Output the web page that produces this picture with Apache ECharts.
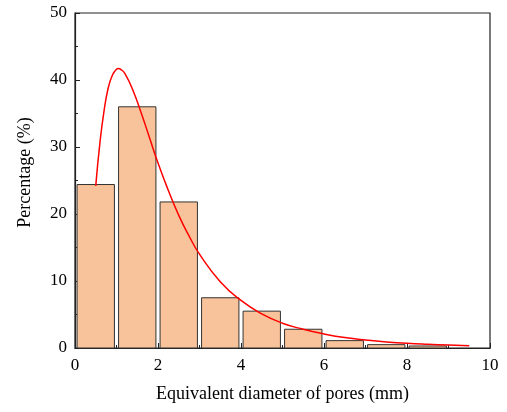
<!DOCTYPE html>
<html>
<head>
<meta charset="utf-8">
<script src="https://cdn.jsdelivr.net/npm/echarts@6/dist/echarts.min.js"></script>
<style>html,body{margin:0;padding:0;background:#fff}#c{width:507px;height:412px}</style>
</head>
<body>
<div id="c"></div>
<script>
// Histogram bins (mm) and percentages
const binStart = [0, 1, 2, 3, 4, 5, 6, 7, 8];
const binEnd   = [1, 2, 3, 4, 5, 6, 7, 8, 9];
const percent  = [24.4, 36.0, 21.8, 7.5, 5.5, 2.8, 1.1, 0.5, 0.3];
// Fitted curve points
const fitX = [0.5, 0.6, 0.7, 0.8, 0.9, 1.0, 1.05, 1.1, 1.2, 1.4, 1.6, 1.8, 2.0, 2.25, 2.5, 2.75, 3.0, 3.5, 4.0, 4.5, 5.0, 5.5, 6.0, 6.5, 7.0, 7.5, 8.0, 8.5, 9.0, 9.5];
const fitY = [24.2, 30.6, 35.4, 38.8, 40.7, 41.6, 41.7, 41.6, 41.0, 38.4, 35.0, 31.3, 27.6, 23.5, 19.8, 16.7, 14.0, 9.9, 7.1, 5.1, 3.7, 2.8, 2.1, 1.55, 1.18, 0.91, 0.70, 0.55, 0.43, 0.34];
const xTicks = [0, 2, 4, 6, 8, 10];
const yTicks = [0, 10, 20, 30, 40, 50];

const font = 'Liberation Serif';
const chart = echarts.init(document.getElementById('c'));
const barData = binStart.map((s, i) => [s, binEnd[i], percent[i]]);
const lineData = fitX.map((x, i) => [x, fitY[i]]);
const gapFrac = 0.05;

chart.setOption({
  animation: false,
  backgroundColor: '#fff',
  grid: { left: 75, right: 17, top: 13, bottom: 64, show: true, borderColor: '#222', borderWidth: 1.2, backgroundColor: 'transparent' },
  xAxis: {
    type: 'value', min: xTicks[0], max: xTicks[xTicks.length - 1], interval: 2,
    name: 'Equivalent diameter of pores (mm)', nameLocation: 'middle', nameGap: 37,
    nameTextStyle: { fontFamily: font, fontSize: 18, color: '#000' },
    axisLine: { show: true, lineStyle: { color: '#222', width: 1.2 } },
    axisTick: { show: true, inside: true, length: 5, lineStyle: { color: '#222' } },
    minorTick: { show: true, splitNumber: 2, length: 3, lineStyle: { color: '#222' } },
    axisLabel: { fontFamily: font, fontSize: 17, color: '#000', margin: 9 },
    splitLine: { show: false }
  },
  yAxis: {
    type: 'value', min: yTicks[0], max: yTicks[yTicks.length - 1], interval: 10,
    name: 'Percentage (%)', nameLocation: 'middle', nameGap: 41,
    nameTextStyle: { fontFamily: font, fontSize: 18, color: '#000', padding: [0, 0, 0, 16] },
    axisLine: { show: true, lineStyle: { color: '#222', width: 1.2 } },
    axisTick: { show: true, inside: true, length: 5, lineStyle: { color: '#222' } },
    minorTick: { show: true, splitNumber: 2, length: 3, lineStyle: { color: '#222' } },
    axisLabel: { fontFamily: font, fontSize: 17, color: '#000', margin: 8 },
    splitLine: { show: false }
  },
  series: [
    {
      type: 'custom',
      data: barData,
      encode: { x: [0, 1], y: 2 },
      renderItem: function (params, api) {
        const s = api.value(0), e = api.value(1), v = api.value(2);
        const w = e - s;
        const p0 = api.coord([s + w * gapFrac, v]);
        const p1 = api.coord([e - w * gapFrac, 0]);
        return {
          type: 'rect',
          shape: { x: p0[0], y: p0[1], width: p1[0] - p0[0], height: p1[1] - p0[1] },
          style: { fill: '#F8C39A', stroke: '#333', lineWidth: 1 }
        };
      },
      z: 2
    },
    {
      type: 'line',
      data: lineData,
      smooth: true,
      showSymbol: false,
      lineStyle: { color: '#FF0000', width: 1.5 },
      z: 3
    }
  ]
});
</script>
</body>
</html>
